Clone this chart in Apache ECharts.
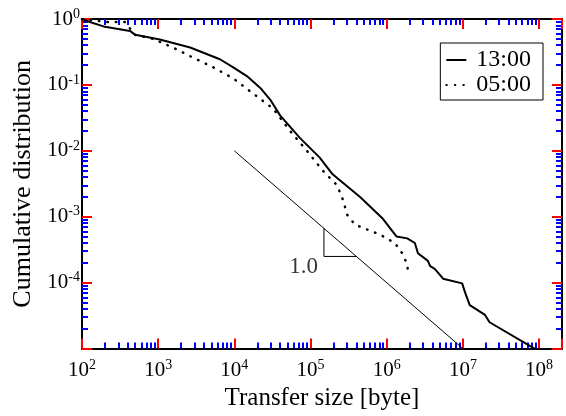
<!DOCTYPE html>
<html>
<head>
<meta charset="utf-8">
<script src="https://cdn.jsdelivr.net/npm/echarts@6/dist/echarts.min.js"></script>
<style>html,body{margin:0;background:#fff}#main{width:566px;height:416px}</style>
</head>
<body>
<div id="main"></div>
<script>
// 13:00 curve
var solidX = [100, 127, 200, 427, 500, 1050, 2630, 6460, 9550, 14600, 21900, 29500, 39800, 72900, 132000, 195000, 447000, 891000, 1350000, 1860000, 2340000, 2570000, 3470000, 3720000, 4270000, 5500000, 9770000, 10700000, 12300000, 19500000, 22400000, 87100000];
var solidY = [1.0, 0.90, 0.76, 0.66, 0.575, 0.49, 0.37, 0.245, 0.186, 0.136, 0.090, 0.060, 0.0345, 0.0156, 0.0079, 0.0044, 0.002, 0.00093, 0.0005, 0.00047, 0.0004, 0.00028, 0.000214, 0.000178, 0.000162, 0.000115, 0.0000977, 0.0000708, 0.0000457, 0.0000324, 0.0000251, 0.00001];
// 05:00 curve
var dotX = [100, 219, 365, 500, 851, 1560, 2860, 5260, 9550, 15900, 32100, 54000, 89700, 145000, 223000, 268000, 303000, 383000, 806000, 1280000, 1630000, 1850000, 1920000];
var dotY = [1.0, 0.90, 0.90, 0.575, 0.50, 0.37, 0.26, 0.185, 0.127, 0.081, 0.044, 0.020, 0.01, 0.005, 0.0030, 0.00178, 0.00107, 0.00076, 0.00054, 0.0004, 0.00027, 0.00019, 0.000141];
// slope -1 guide and its triangle
var refX = [1e4, 1e7];
var refY = [1e-2, 1e-5];
var triX = [1.5e5, 1.5e5, 4e5];
var triY = [6.67e-4, 2.5e-4, 2.5e-4];
var slopeLabel = {x: 8.1e4, y: 1.74e-4, text: '1.0'};

var FONT = 'Liberation Serif';
var INK = '#000';

function zip(xs, ys) { return xs.map(function (x, i) { return [x, ys[i]]; }); }

function powLabel(v, hide) {
  var l = Math.log10(v), e = Math.round(l);
  if (Math.abs(l - e) > 1e-6 || e === hide) return '';
  return '{b|10}{s|' + e + '}';
}
var rich = {
  b: {fontSize: 21, fontFamily: FONT, color: INK, lineHeight: 24},
  s: {fontSize: 14, fontFamily: FONT, color: INK, verticalAlign: 'top', lineHeight: 14}
};

// every axis gets its own copy
function axisBase(min, max, pos) {
  return {
    type: 'log', min: min, max: max, position: pos,
    axisLine: {show: true, lineStyle: {color: INK, width: 2}},
    axisTick: {show: true, inside: true, length: 10, lineStyle: {color: 'red', width: 2}},
    minorTick: {show: true, splitNumber: 9, length: 6, lineStyle: {color: 'blue', width: 2}},
    splitLine: {show: false},
    axisLabel: {show: false}
  };
}

var xBottom = axisBase(100, 2e8, 'bottom');
xBottom.name = 'Transfer size [byte]';
xBottom.nameLocation = 'middle';
xBottom.nameGap = 34;
xBottom.nameTextStyle = {fontFamily: FONT, fontSize: 25, color: INK};
xBottom.axisLabel = {show: true, margin: 10, formatter: function (v) { return powLabel(v); }, rich: rich};

var yLeft = axisBase(1e-5, 1, 'left');
yLeft.name = 'Cumulative distribution';
yLeft.nameLocation = 'middle';
yLeft.nameGap = 46;
yLeft.nameTextStyle = {fontFamily: FONT, fontSize: 26, color: INK};
yLeft.axisLabel = {show: true, margin: 2, formatter: function (v) { return powLabel(v, -5); }, rich: rich};

var chart = echarts.init(document.getElementById('main'));
chart.setOption({
  animation: false,
  backgroundColor: '#fff',
  grid: {left: 82, right: 4, top: 19, bottom: 62},
  legend: {
    data: ['13:00', '05:00'],
    orient: 'vertical', right: 23, top: 43,
    borderColor: INK, borderWidth: 1, borderRadius: 0,
    padding: [5, 12, 3, 5], itemGap: 1, itemWidth: 20, itemHeight: 14,
    itemStyle: {opacity: 0},
    textStyle: {fontFamily: FONT, fontSize: 24, color: INK, lineHeight: 24, padding: [0, 0, 0, 5]}
  },
  xAxis: [xBottom, axisBase(100, 2e8, 'top')],
  yAxis: [yLeft, axisBase(1e-5, 1, 'right')],
  series: [{
    name: '13:00', type: 'line', data: zip(solidX, solidY), symbol: 'none',
    lineStyle: {color: INK, width: 2}, itemStyle: {color: INK}
  }, {
    name: '05:00', type: 'line', data: zip(dotX, dotY), symbol: 'none',
    lineStyle: {color: INK, width: 2.5, type: [0.5, 8], cap: 'round'}, itemStyle: {color: INK}
  }, {
    name: 'ref', type: 'line', data: zip(refX, refY), symbol: 'none',
    lineStyle: {color: INK, width: 1}
  }, {
    name: 'tri', type: 'line', data: zip(triX, triY), symbol: 'none',
    lineStyle: {color: INK, width: 1}
  }, {
    name: 'slope', type: 'scatter', data: [[slopeLabel.x, slopeLabel.y]], symbolSize: 1,
    itemStyle: {color: '#fff'},
    label: {show: true, position: 'inside', formatter: slopeLabel.text, fontFamily: FONT, fontSize: 23, color: INK, textBorderWidth: 0}
  }]
});
</script>
</body>
</html>
